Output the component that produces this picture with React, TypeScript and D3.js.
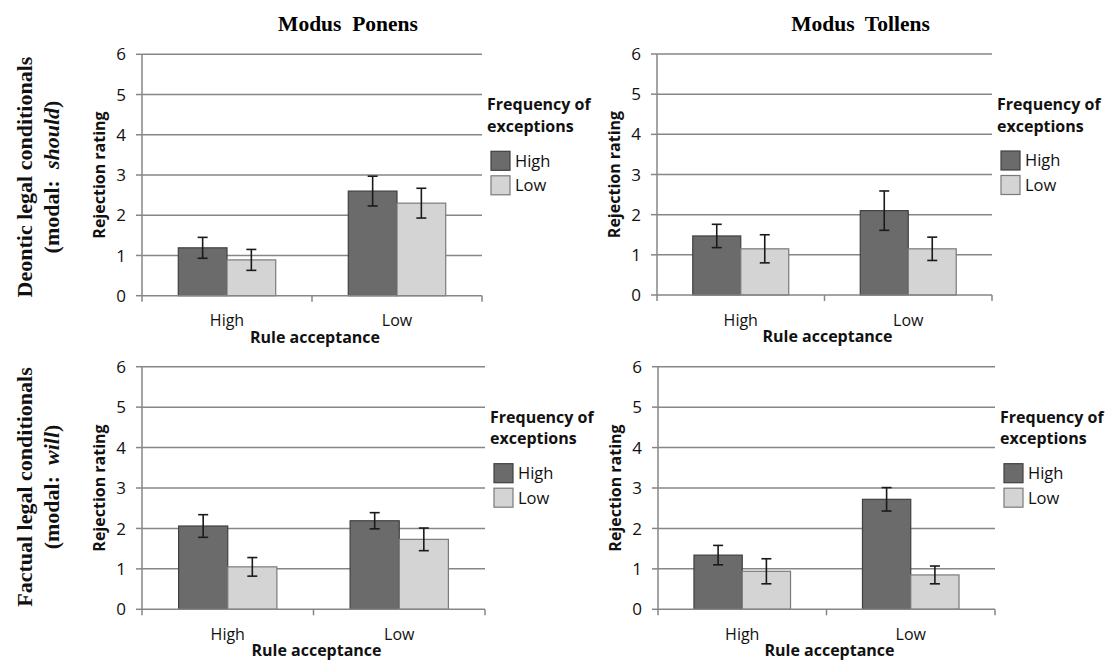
import * as d3 from "d3";

// x categories and the two series (frequency of exceptions)
const ruleAcceptance = ["High", "Low"];
const exceptionFreq = ["High", "Low"];
const yTicks = [0, 1, 2, 3, 4, 5, 6];

const columnTitles = ["Modus  Ponens", "Modus  Tollens"];

// means listed as [ruleHigh-excHigh, ruleHigh-excLow, ruleLow-excHigh, ruleLow-excLow]
const mpDeonticMeans = [1.19, 0.89, 2.6, 2.3];
const mpDeonticErr = [0.26, 0.26, 0.37, 0.37];
const mtDeonticMeans = [1.47, 1.15, 2.1, 1.15];
const mtDeonticErr = [0.29, 0.35, 0.49, 0.29];
const mpFactualMeans = [2.06, 1.05, 2.19, 1.73];
const mpFactualErr = [0.28, 0.23, 0.2, 0.28];
const mtFactualMeans = [1.34, 0.94, 2.72, 0.85];
const mtFactualErr = [0.24, 0.31, 0.29, 0.22];

const SANS = "'Open Sans', Lato, sans-serif";
const SERIF = "'Liberation Serif', 'DejaVu Serif', serif";
const GRID = "#868686";
const fills = ["#6b6b6b", "#d4d4d4"];
const strokes = ["#404040", "#7a7a7a"];

// plot boxes of the four panels
const panels = [
  { x: 142, y: 54.3, w: 340, h: 241.4, means: mpDeonticMeans, err: mpDeonticErr, col: 0 },
  { x: 657, y: 54, w: 335, h: 241, means: mtDeonticMeans, err: mtDeonticErr, col: 1 },
  { x: 142, y: 366.7, w: 343, h: 242.6, means: mpFactualMeans, err: mpFactualErr, col: 0 },
  { x: 658, y: 366.7, w: 337, h: 242.6, means: mtFactualMeans, err: mtFactualErr, col: 1 },
];

function Panel({ p, title }: { p: any; title: boolean }) {
  const x = d3.scaleBand<string>().domain(ruleAcceptance).range([p.x, p.x + p.w]);
  const inner = d3
    .scaleBand<string>()
    .domain(exceptionFreq)
    .range([0, x.bandwidth()])
    .paddingOuter(0.745);
  const y = d3.scaleLinear().domain([0, 6]).range([p.y + p.h, p.y]);
  const bottom = y(0);
  const cx = p.x + p.w / 2;
  const legX = p.x + p.w + 9;

  return (
    <g>
      {title && (
        <text
          x={cx + 36}
          y={30.5}
          textAnchor="middle"
          fontFamily={SERIF}
          fontWeight="bold"
          fontSize={21.5}
          style={{ whiteSpace: "pre" }}
        >
          {columnTitles[p.col]}
        </text>
      )}

      {/* gridlines */}
      {yTicks.slice(1).map((t) => (
        <line key={t} x1={p.x} x2={p.x + p.w} y1={y(t)} y2={y(t)} stroke={GRID} strokeWidth={1.5} />
      ))}
      {/* y axis + ticks */}
      <line x1={p.x} x2={p.x} y1={p.y} y2={bottom} stroke={GRID} strokeWidth={1.5} />
      {yTicks.map((t) => (
        <g key={t}>
          <line x1={p.x - 6} x2={p.x} y1={y(t)} y2={y(t)} stroke={GRID} strokeWidth={1.5} />
          <text
            x={p.x - 16}
            y={y(t)}
            dy="0.36em"
            textAnchor="end"
            fontFamily={SANS}
            fontSize={17}
            fill="#111"
          >
            {t}
          </text>
        </g>
      ))}

      {/* bars */}
      {ruleAcceptance.map((r, ri) =>
        exceptionFreq.map((e, ei) => {
          const v = p.means[ri * 2 + ei];
          const bx = (x(r) as number) + (inner(e) as number);
          return (
            <rect
              key={r + e}
              x={bx}
              y={y(v)}
              width={inner.bandwidth()}
              height={bottom - y(v)}
              fill={fills[ei]}
              stroke={strokes[ei]}
              strokeWidth={1.2}
            />
          );
        })
      )}

      {/* x axis */}
      <line x1={p.x} x2={p.x + p.w} y1={bottom} y2={bottom} stroke={GRID} strokeWidth={1.5} />
      {[p.x, p.x + x.bandwidth(), p.x + p.w].map((tx, i) => (
        <line key={i} x1={tx} x2={tx} y1={bottom} y2={bottom + 6} stroke={GRID} strokeWidth={1.5} />
      ))}

      {/* error bars */}
      {ruleAcceptance.map((r, ri) =>
        exceptionFreq.map((e, ei) => {
          const v = p.means[ri * 2 + ei];
          const er = p.err[ri * 2 + ei];
          const mx = (x(r) as number) + (inner(e) as number) + inner.bandwidth() / 2;
          return (
            <g key={"e" + r + e} stroke="#1a1a1a" strokeWidth={1.6}>
              <line x1={mx} x2={mx} y1={y(v + er)} y2={y(v - er)} />
              <line x1={mx - 5} x2={mx + 5} y1={y(v + er)} y2={y(v + er)} />
              <line x1={mx - 5} x2={mx + 5} y1={y(v - er)} y2={y(v - er)} />
            </g>
          );
        })
      )}

      {/* x labels */}
      {ruleAcceptance.map((r) => (
        <text
          key={r}
          x={(x(r) as number) + x.bandwidth() / 2}
          y={bottom + 30.5}
          textAnchor="middle"
          fontFamily={SANS}
          fontSize={16}
          fill="#111"
        >
          {r}
        </text>
      ))}
      <text x={cx + 3} y={bottom + 47} textAnchor="middle" fontFamily={SANS} fontWeight="bold" fontSize={16} fill="#111">
        Rule acceptance
      </text>

      {/* y label */}
      <text
        transform={`translate(${p.x - 43},${p.y + p.h / 2}) rotate(-90)`}
        dy="0.36em"
        textAnchor="middle"
        fontFamily={SANS}
        fontWeight="bold"
        fontSize={16}
        fill="#111"
      >
        Rejection rating
      </text>

      {/* legend */}
      <g fontFamily={SANS} fill="#111">
        <text x={legX - 4} y={p.y + 56} fontWeight="bold" fontSize={16}>
          Frequency of
        </text>
        <text x={legX - 4} y={p.y + 77.5} fontWeight="bold" fontSize={16}>
          exceptions
        </text>
        {exceptionFreq.map((e, i) => (
          <g key={e}>
            <rect
              x={legX}
              y={p.y + 97 + i * 24.5}
              width={19}
              height={19}
              fill={fills[i]}
              stroke={strokes[i]}
              strokeWidth={1.2}
            />
            <text x={legX + 24} y={p.y + 97 + i * 24.5 + 9.5} dy="0.36em" fontSize={16.5}>
              {e}
            </text>
          </g>
        ))}
      </g>
    </g>
  );
}

function RowLabel({ cy, line1, pre, em }: { cy: number; line1: string; pre: string; em: string }) {
  return (
    <g fontFamily={SERIF} fontWeight="bold" fontSize={22} fill="#111">
      <text transform={`translate(24,${cy}) rotate(-90)`} dy="0.36em" textAnchor="middle">
        {line1}
      </text>
      <text transform={`translate(51,${cy}) rotate(-90)`} dy="0.36em" textAnchor="middle" style={{ whiteSpace: "pre" }}>
        {pre}
        <tspan fontStyle="italic">{em}</tspan>)
      </text>
    </g>
  );
}

export default function App() {
  return (
    <svg
      width={1112}
      height={662}
      style={{ position: "absolute", left: 0, top: 0, background: "#fff" }}
    >
      <rect width={1112} height={662} fill="#fff" />
      <RowLabel cy={177} line1="Deontic legal conditionals" pre="(modal:  " em="should" />
      <RowLabel cy={487} line1="Factual legal conditionals" pre="(modal:  " em="will" />
      {panels.map((p, i) => (
        <Panel key={i} p={p} title={i < 2} />
      ))}
    </svg>
  );
}
